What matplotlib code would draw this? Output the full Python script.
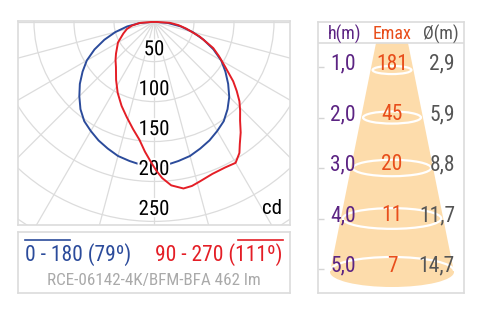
import numpy as np
import matplotlib
matplotlib.use('Agg')
import matplotlib.pyplot as plt
import matplotlib.patheffects as pe
from matplotlib.patches import Ellipse, Arc, Polygon, Circle
from matplotlib.lines import Line2D

plt.rcParams['font.family'] = ['Roboto Condensed', 'Liberation Sans Narrow', 'Roboto', 'DejaVu Sans']

# curva C0-180 (angulo desde nadir, cd)
ang_c0 = [-90, -85, -80, -75, -70, -65, -60, -55, -50, -45, -40, -35, -30, -25, -20, -15, -10, -5, 0,
          5, 10, 15, 20, 25, 30, 35, 40, 45, 50, 55, 60, 65, 70, 75, 80, 85, 90]
cd_c0 = [0, 17, 34, 50, 66, 82, 97, 109, 121, 132, 143, 152, 158, 164, 169, 174, 177, 180, 181,
         180, 177, 174, 169, 164, 158, 152, 143, 133, 121, 109, 97, 82, 66, 50, 34, 17, 0]

# curva C90-270
ang_c90 = [-90, -85, -80, -75, -69, -60, -50, -45, -40, -33, -27, -21, -16, -11, -7, -4, -1, 1, 3, 6, 10, 13, 16,
           21, 26, 30, 33, 35, 38, 41, 44, 47, 50, 53, 58, 62, 66, 72, 78, 82, 86, 90]
cd_c90 = [0, 18, 28, 35, 41, 52, 62, 68, 74, 87, 100, 113, 124, 137, 149, 163, 177, 187, 196, 206, 212, 211, 208,
          204, 203, 204, 196, 187, 176, 164, 155, 146, 135, 124, 104, 92, 81, 60, 41, 31, 20, 0]

rings = [50, 100, 150, 200, 250]
label_0 = '0 - 180 (79º)'
label_90 = '90 - 270 (111º)'
lamp = 'RCE-06142-4K/BFM-BFA 462 lm'

alturas = ['1,0', '2,0', '3,0', '4,0', '5,0']
emax = ['181', '45', '20', '11', '7']
diam = ['2,9', '5,9', '8,8', '11,7', '14,7']

azul = '#2b4b9b'
rojo = '#e41e26'
gris = '#dcdcdc'
morado = '#5c2483'
naranja = '#e84e1b'

W, H = 481, 313
fig = plt.figure(figsize=(W / 100, H / 100), dpi=100)

def rect(x0, y0, x1, y1):
    return [x0 / W, 1 - y1 / H, (x1 - x0) / W, (y1 - y0) / H]

def fx(px):
    return px / W

def fy(py):
    return 1 - py / H

# ---- diagrama polar ----
ax = fig.add_axes(rect(18, 21, 290, 225))
ax.set_xlim(-170, 170)
ax.set_ylim(-254.5, 0.9)
ax.set_xticks([])
ax.set_yticks([])
for s in ax.spines.values():
    s.set_color(gris)
    s.set_linewidth(1.2)

for r in range(50, 400, 50):
    ax.add_patch(Circle((0, 0), r, fill=False, ec=gris, lw=0.9, zorder=1))
for a in range(-90, 91, 15):
    t = np.radians(a)
    ax.plot([0, 400 * np.sin(t)], [0, -400 * np.cos(t)], color=gris, lw=0.9, zorder=1)

t0 = np.radians(ang_c0)
ax.plot(np.array(cd_c0) * np.sin(t0), -np.array(cd_c0) * np.cos(t0), color=azul, lw=1.4, zorder=2)

halo = [pe.withStroke(linewidth=3, foreground='white')]
for v in rings:
    ax.text(0, -(v - 15), str(v), ha='center', va='center', fontsize=15, color='black',
            path_effects=halo, zorder=3)
ax.text(160, -234, 'cd', ha='right', va='center', fontsize=15, color='black', zorder=3)

t9 = np.radians(ang_c90)
ax.plot(np.array(cd_c90) * np.sin(t9), -np.array(cd_c90) * np.cos(t9), color=rojo, lw=1.4, zorder=4)

# ---- leyenda ----
lg = fig.add_axes(rect(18, 232, 290, 293))
lg.set_xticks([])
lg.set_yticks([])
for s in lg.spines.values():
    s.set_color(gris)
    s.set_linewidth(1.2)

fig.text(fx(25), fy(255), label_0, color=azul, fontsize=15.5, ha='left', va='center')
fig.text(fx(283), fy(255), label_90, color=rojo, fontsize=15.5, ha='right', va='center')
fig.add_artist(Line2D([fx(25), fx(70)], [fy(239.5)] * 2, color=azul, lw=1.2))
fig.add_artist(Line2D([fx(238), fx(283)], [fy(239.5)] * 2, color=rojo, lw=1.2))
fig.text(fx(154), fy(280), lamp, color='#aaaaaa', fontsize=12.3, ha='center', va='center')

# ---- tabla del cono ----
bx = fig.add_axes(rect(318, 22, 464, 293))
bx.set_xlim(318, 464)
bx.set_ylim(293, 22)
bx.set_xticks([])
for s in bx.spines.values():
    s.set_color(gris)
    s.set_linewidth(1.2)
bx.plot([318, 464], [43, 43], color=gris, lw=1.2)

fila_y = [64 + 50.5 * i for i in range(len(alturas))]
bx.set_yticks([y + 3 for y in fila_y])
bx.set_yticklabels([])
bx.tick_params(axis='y', direction='in', length=4, color='#d5d5d5', width=1)

cono = '#fddcab'
bx.add_patch(Polygon([(376, 43), (408, 43), (454, 272), (330, 272)], closed=True, fc=cono, ec='none', zorder=1))
bx.add_patch(Ellipse((392, 272), 124, 30, fc=cono, ec='none', zorder=1))

def ancho(y):
    return 32 + (y - 43) * 92 / 229

for i, y in enumerate(fila_y):
    yc = y + (6 if i == 0 else 3)
    w = ancho(yc) - 4
    if i < len(fila_y) - 1:
        bx.add_patch(Ellipse((392, yc), w, w * 0.21, fc='none', ec='white', lw=1.6, zorder=2))
    else:
        bx.add_patch(Arc((392, 271), 124, 28, theta1=180, theta2=360, ec='white', lw=1.6, zorder=2))

bx.text(345, 34, 'h(m)', color=morado, fontsize=13, ha='center', va='center', zorder=3)
bx.text(392, 34, 'Emax', color=naranja, fontsize=13, ha='center', va='center', zorder=3)
bx.text(459, 34, 'Ø(m)', color='#555555', fontsize=13, ha='right', va='center', zorder=3)

for y, h, e, d in zip(fila_y, alturas, emax, diam):
    bx.text(343, y, h, color=morado, fontsize=15.5, ha='center', va='center', zorder=3)
    bx.text(392, y, e, color=naranja, fontsize=15.5, ha='center', va='center', zorder=3)
    bx.text(455, y, d, color='#555555', fontsize=15.5, ha='right', va='center', zorder=3)

fig.savefig('out.png', dpi=100)
